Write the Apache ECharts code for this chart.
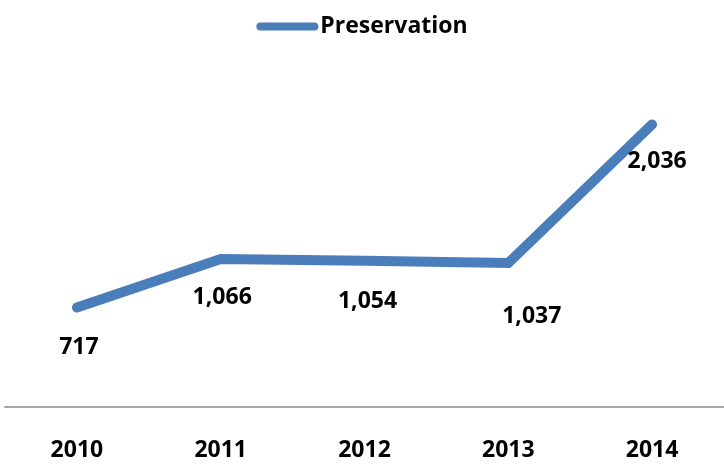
<!DOCTYPE html>
<html>
<head>
<meta charset="utf-8">
<script src="https://cdn.jsdelivr.net/npm/echarts@6/dist/echarts.min.js"></script>
<style>html,body{margin:0;padding:0;background:#fff}#c{width:724px;height:465px}</style>
</head>
<body>
<div id="c"></div>
<script>
var categories = ['2010', '2011', '2012', '2013', '2014'];
var seriesName = 'Preservation';
var values = [717, 1066, 1054, 1037, 2036];

var FONT = '"Open Sans", sans-serif';
var labelOffsets = [[2, 27], [1.5, 25.5], [3, 28], [23.5, 40.5], [5, 25]];

var chart = echarts.init(document.getElementById('c'));
chart.setOption({
  animation: false,
  legend: {
    top: 10,
    left: 'center',
    data: [{ name: seriesName, icon: 'path://M4,0 L58,0 A4,4 0 0 1 58,8 L4,8 A4,4 0 0 1 4,0 Z' }],
    itemWidth: 62,
    itemHeight: 8,
    itemGap: 4,
    textStyle: { fontFamily: FONT, fontWeight: 'bold', fontSize: 23, color: '#000', padding: [0, 0, 0, -3] }
  },
  grid: { left: 5, width: 722, top: 60, bottom: 58, containLabel: false },
  xAxis: {
    type: 'category',
    data: categories,
    boundaryGap: true,
    axisLine: { lineStyle: { color: '#A6A6A6', width: 2 } },
    axisTick: { show: false },
    axisLabel: { margin: 32, fontFamily: FONT, fontWeight: 'bold', fontSize: 23, color: '#000' }
  },
  yAxis: {
    type: 'value',
    min: 0,
    max: 2500,
    show: false,
    splitLine: { show: false }
  },
  series: [{
    name: seriesName,
    type: 'line',
    data: values.map(function (v, i) {
      return { value: v, label: { offset: labelOffsets[i] } };
    }),
    symbol: 'circle',
    symbolSize: 2,
    showSymbol: true,
    itemStyle: { color: '#4A7EBB' },
    lineStyle: { color: '#4A7EBB', width: 10, cap: 'round', join: 'miter' },
    label: {
      show: true,
      position: 'bottom',
      distance: 0,
      fontFamily: FONT,
      fontWeight: 'bold',
      fontSize: 23,
      color: '#000',
      formatter: function (p) { return p.value.toLocaleString('en-US'); }
    }
  }]
});
</script>
</body>
</html>
